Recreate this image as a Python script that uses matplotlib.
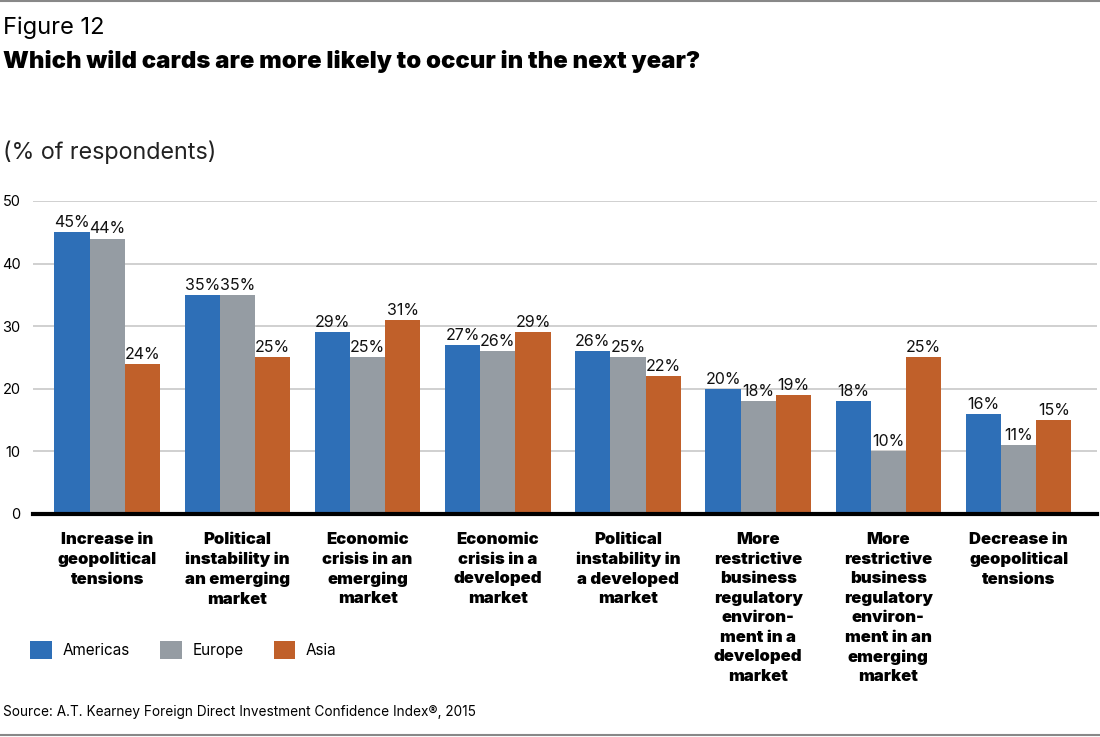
import matplotlib
matplotlib.use("Agg")
import matplotlib.pyplot as plt
from matplotlib.lines import Line2D
import numpy as np

# chart data
categories = [
    "Increase in\ngeopolitical\ntensions",
    "Political\ninstability in\nan emerging\nmarket",
    "Economic\ncrisis in an\nemerging\nmarket",
    "Economic\ncrisis in a\ndeveloped\nmarket",
    "Political\ninstability in\na developed\nmarket",
    "More\nrestrictive\nbusiness\nregulatory\nenviron-\nment in a\ndeveloped\nmarket",
    "More\nrestrictive\nbusiness\nregulatory\nenviron-\nment in an\nemerging\nmarket",
    "Decrease in\ngeopolitical\ntensions",
]
series_names = ["Americas", "Europe", "Asia"]
americas = [45, 35, 29, 27, 26, 20, 18, 16]
europe = [44, 35, 25, 26, 25, 18, 10, 11]
asia = [24, 25, 31, 29, 22, 19, 25, 15]
y_ticks = [0, 10, 20, 30, 40, 50]

colors = ["#2e6fb7", "#959ca3", "#c0602a"]

plt.rcParams['font.family'] = ['Inter', 'DejaVu Sans']

fig = plt.figure(figsize=(11, 7.37), dpi=100)
ax = fig.add_axes([0.030, 0.3026, 0.967, 0.4247])

x = np.arange(len(categories))
w = 0.27
bars = []
for i, (vals, name, c) in enumerate(zip([americas, europe, asia], series_names, colors)):
    b = ax.bar(x + (i - 1) * w, vals, w, color=c, label=name, zorder=3)
    bars.append(b)
    for xi, v in zip(x + (i - 1) * w, vals):
        ax.text(xi, v + 0.35, f"{v}%", ha="center", va="bottom",
                fontsize=11.5, color="#111111", zorder=4)

ax.set_xlim(-0.57, 7.6)
ax.set_ylim(0, 50)
ax.set_yticks(y_ticks)
ax.set_yticklabels([str(t) for t in y_ticks], fontsize=10.5)
ax.tick_params(axis="y", length=0, pad=9)
ax.yaxis.grid(True, color="#c8c8c8", linewidth=1.2, zorder=0)
ax.set_axisbelow(True)

ax.set_xticks(x)
ax.set_xticklabels(categories, fontsize=12, fontweight=900,
                   linespacing=1.38, va="top")
ax.tick_params(axis="x", length=0, pad=13)

for s in ["top", "right", "left"]:
    ax.spines[s].set_visible(False)
ax.spines["bottom"].set_linewidth(3)
ax.spines["bottom"].set_color("black")
ax.spines["bottom"].set_zorder(5)

# titles
fig.text(0.003, 0.962, "Figure 12", fontsize=17, va="center", ha="left")
fig.text(0.003, 0.916, "Which wild cards are more likely to occur in the next year?",
         fontsize=17.2, fontweight=900, va="center", ha="left")
fig.text(0.003, 0.793, "(% of respondents)", fontsize=16.8, va="center", ha="left",
         color="#222222")

# legend
fig.legend(handles=bars, labels=series_names, loc="center left",
           bbox_to_anchor=(0.015, 0.118), ncol=3, frameon=False,
           fontsize=11, handlelength=1.4, handleheight=1.4,
           handletextpad=0.7, columnspacing=2.0)

fig.text(0.003, 0.034, "Source: A.T. Kearney Foreign Direct Investment Confidence Index\u00ae, 2015",
         fontsize=9.8, va="center", ha="left")

# top and bottom rules
fig.add_artist(Line2D([0, 1], [0.998, 0.998], color="#888888", linewidth=1.5,
                      transform=fig.transFigure))
fig.add_artist(Line2D([0, 1], [0.003, 0.003], color="#888888", linewidth=1.5,
                      transform=fig.transFigure))

fig.savefig("out.png", dpi=100)
